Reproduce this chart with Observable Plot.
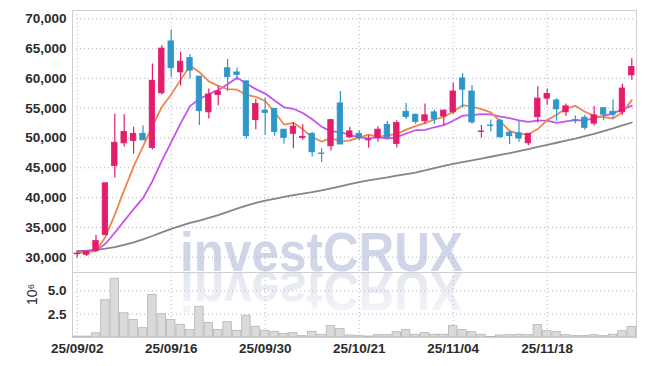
<!DOCTYPE html>
<html><head><meta charset="utf-8">
<script src="https://cdn.jsdelivr.net/npm/d3@7"></script>
<script src="https://cdn.jsdelivr.net/npm/@observablehq/plot@0.6"></script>
<style>
body{margin:0;background:#fff;}
#chart{width:645px;height:366px;position:relative;overflow:hidden;}
#chart svg{display:block;}
</style></head><body><div id="chart"></div>
<script>
const dates = ["25/09/02","25/09/03","25/09/04","25/09/05","25/09/08","25/09/09","25/09/10","25/09/11","25/09/12","25/09/15",
"25/09/16","25/09/17","25/09/18","25/09/19","25/09/22","25/09/23","25/09/24","25/09/25","25/09/26","25/09/29",
"25/09/30","25/10/01","25/10/02","25/10/10","25/10/13","25/10/14","25/10/15","25/10/16","25/10/17","25/10/20",
"25/10/21","25/10/22","25/10/23","25/10/24","25/10/27","25/10/28","25/10/29","25/10/30","25/10/31","25/11/03",
"25/11/04","25/11/05","25/11/06","25/11/07","25/11/10","25/11/11","25/11/12","25/11/13","25/11/14","25/11/17",
"25/11/18","25/11/19","25/11/20","25/11/21","25/11/24","25/11/25","25/11/26","25/11/27","25/11/28","25/12/01"];
const open = [30500,30400,31000,33700,45300,49100,49500,50700,48300,57500,66200,61000,63400,60300,54300,57200,61700,61000,59500,53000,
54600,54900,51400,50700,50000,50700,47400,48600,55800,50100,50700,49600,50000,52200,49000,54400,53900,52800,54300,53600,
54300,60000,57800,51000,52100,52900,50900,50800,49100,53500,56600,56300,54300,53000,53400,52400,55000,54400,54300,60500];
const high = [30800,31000,33700,42400,54000,53900,51800,52000,62400,65500,68100,64400,64000,60300,58200,58700,63200,61700,59500,56500,
56700,54900,51400,52600,52200,50900,48200,53100,57800,51800,51200,50400,51900,52800,52900,55800,54000,55700,54700,54700,
59200,60800,58800,52100,53000,53200,51200,52800,50700,58600,58200,56600,55700,53700,53800,55300,55000,56400,59000,63300];
const low = [29850,30100,30900,33600,43300,48500,47300,49600,48000,57200,60100,58700,59900,52100,53200,55400,57800,59600,49800,51400,
50400,50300,49000,48200,49600,46800,45900,47800,48900,49900,49500,48300,49300,50000,48300,53100,52300,52300,52300,52100,
54000,55000,52300,50000,51000,50000,48900,49300,48700,52500,55500,52800,53600,52400,51300,52000,52900,53200,53800,59700];
const close = [30600,30900,32700,42400,49200,51000,50700,49600,59600,65000,61700,62800,61300,54500,57300,57800,60200,60600,50300,55700,
54200,51000,50000,51900,50200,47600,47300,53000,48900,51100,50000,49700,51400,50000,52500,53500,52700,53800,53100,54600,
57800,58100,52600,51100,52000,50100,50300,49900,50700,56600,57400,54800,55300,52900,51700,53800,53900,53900,58300,61900];
const ma5 = [30700,30750,31050,33400,37150,41250,45200,48600,52000,55200,57300,59750,62100,61050,59500,58750,58200,58100,57250,56900,
56200,54350,52250,52550,51450,50150,49400,50000,49400,49600,50050,50550,50200,50450,50700,51400,52000,52500,53100,53550,
54400,55500,55250,54850,54300,52800,51200,50700,50600,51500,53000,53900,54950,55400,54400,53700,53500,53250,54300,56350];
const ma10 = [30950,30950,31100,32250,34100,36100,38050,39900,42750,46150,49300,52450,55350,56550,57350,58050,59000,60100,59150,58200,
57450,56300,55150,54900,54200,53150,51900,51100,51000,50500,50100,49950,50100,49900,50150,50750,51300,51350,51800,52150,
52900,53750,53850,54000,53950,53600,53350,52950,52700,52900,52900,52550,52800,53000,52950,53350,53700,54100,54850,55400];
const ma60 = [31000,31100,31250,31450,31700,32050,32500,33000,33550,34150,34750,35250,35750,36150,36600,37050,37600,38150,38650,39100,
39500,39800,40100,40400,40650,40900,41200,41550,41900,42250,42600,42900,43150,43400,43700,43950,44200,44550,44950,45300,
45650,45950,46250,46550,46850,47150,47450,47800,48150,48500,48850,49200,49550,49900,50300,50700,51150,51600,52100,52600];
const volume = [0.1,0.1,0.45,4.0,6.3,2.6,1.87,1.0,4.55,2.5,1.87,1.36,0.79,3.29,1.57,0.79,1.65,0.72,2.33,1.15,
0.72,0.61,0.4,0.47,0.15,0.61,0.3,1.22,0.9,0.22,0.18,0.11,0.25,0.25,0.57,0.79,0.3,0.47,0.3,0.3,
1.22,0.79,0.57,0.3,0.05,0.22,0.25,0.3,0.25,1.33,0.68,0.57,0.25,0.15,0.15,0.25,0.15,0.3,0.68,1.12];
const tickDates = ["25/09/02","25/09/16","25/09/30","25/10/21","25/11/04","25/11/18"];
const priceTicks = [30000,35000,40000,45000,50000,55000,60000,65000,70000];
const volTicks = [2.5,5.0];

const data = dates.map((d,i)=>({date:d, open:open[i], high:high[i], low:low[i], close:close[i],
  ma5:ma5[i], ma10:ma10[i], ma60:ma60[i], volume:volume[i], up: close[i] >= open[i]}));

const FONT = "'Liberation Sans','Arial',sans-serif";
const UP = "#e31c6c", DOWN = "#2e96c8";
const GRID = {stroke:"#b0b4c8", strokeOpacity:1, strokeDasharray:"1,3"};
const TXT = "#2b2b2b";
const AX = {tickSize:0, tickPadding:6, fontSize:13.5, fontWeight:"bold", fill:TXT, label:null};

const main = Plot.plot({
  width:645, height:272, marginLeft:72, marginRight:9, marginTop:10, marginBottom:0,
  style:{fontFamily:FONT, background:"#fff", overflow:"visible"},
  x:{type:"band", domain:dates, paddingInner:0.42, paddingOuter:0.21, round:false, axis:null},
  y:{domain:[27430,71390], axis:null},
  marks:[
    Plot.gridY(priceTicks, GRID),
    Plot.gridX(tickDates, GRID),
    Plot.frame({stroke:"#cfcfcf"}),
    Plot.axisY(priceTicks, {...AX, tickFormat:d3.format(",")}),
    Plot.lineY(data, {x:"date", y:"ma60", stroke:"#858585", strokeWidth:1.8}),
    Plot.lineY(data, {x:"date", y:"ma10", stroke:"#c653ee", strokeWidth:1.8}),
    Plot.lineY(data, {x:"date", y:"ma5", stroke:"#ef8650", strokeWidth:1.8}),
    Plot.ruleX(data, {x:"date", y1:"low", y2:"high", stroke:d=>d.up?UP:DOWN, strokeWidth:1.2}),
    Plot.barY(data, {x:"date", y1:"open", y2:"close", fill:d=>d.up?UP:DOWN, stroke:d=>d.up?UP:DOWN, strokeWidth:0.8})
  ]
});

const vol = Plot.plot({
  width:645, height:94, marginLeft:72, marginRight:9, marginTop:0, marginBottom:29,
  style:{fontFamily:FONT, background:"#fff", overflow:"visible"},
  x:{type:"band", domain:dates, paddingInner:0.1, paddingOuter:0.05, round:false},
  y:{domain:[0,6.97]},
  marks:[
    Plot.gridY(volTicks, GRID),
    Plot.gridX(tickDates, GRID),
    Plot.barY(data, {x:"date", y:"volume", fill:"#dadada", stroke:"#b5b5b5", strokeWidth:0.8}),
    Plot.frame({stroke:"#cfcfcf"}),
    Plot.axisY(volTicks, {...AX, tickFormat:d3.format(".1f")}),
    Plot.axisX(tickDates, {...AX}),
    Plot.text(["10⁶"], {frameAnchor:"left", dx:-40, rotate:-90, fontSize:14, fill:TXT})
  ]
});

// watermark
const ms = d3.select(main);
ms.insert("text", "g").attr("x", 321.5).attr("y", 271)
  .attr("text-anchor","middle").attr("font-family", FONT).attr("font-weight","bold")
  .attr("font-size", 56).attr("fill", "#d0d6e8").attr("textLength", 283).attr("lengthAdjust","spacingAndGlyphs")
  .text("investCRUX");
const vs = d3.select(vol);
const defs = vs.insert("defs", "g");
const grad = defs.append("linearGradient").attr("id","wmfade").attr("x1",0).attr("y1",0).attr("x2",0).attr("y2",1);
grad.append("stop").attr("offset","0").attr("stop-color","#f8f8fb");
grad.append("stop").attr("offset","1").attr("stop-color","#dfe2ec");
vs.insert("text", "g").attr("x", 321.5).attr("y", 0).attr("transform","scale(1,-1)")
  .attr("text-anchor","middle").attr("font-family", FONT).attr("font-weight","bold")
  .attr("font-size", 56).attr("fill", "url(#wmfade)").attr("textLength", 283).attr("lengthAdjust","spacingAndGlyphs")
  .text("investCRUX");

document.getElementById("chart").append(main, vol);
</script></body></html>
